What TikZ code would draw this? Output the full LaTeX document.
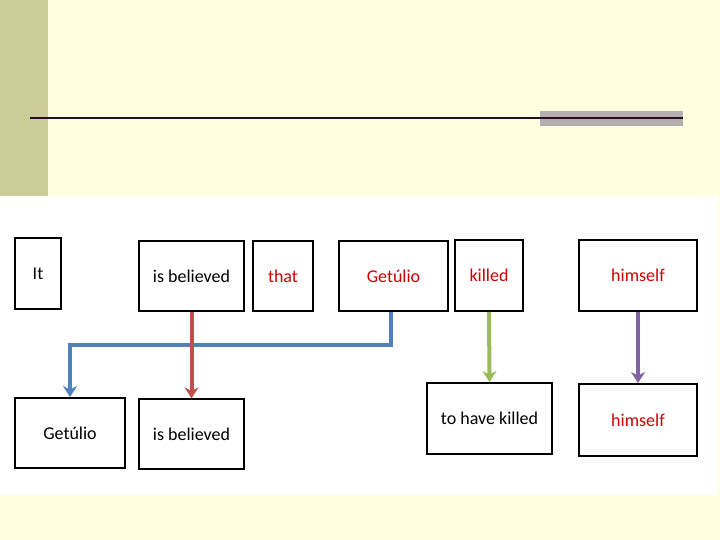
\documentclass[tikz,border=0pt]{standalone}
\usepackage{fontspec}
\setmainfont{Carlito}
\usetikzlibrary{arrows.meta}
\definecolor{cream}{RGB}{255,255,224}
\definecolor{olive}{RGB}{204,204,153}
\definecolor{rulegray}{RGB}{180,174,176}
\definecolor{ruledark}{RGB}{43,10,30}
\definecolor{wordred}{RGB}{204,0,0}
\definecolor{linkblue}{RGB}{79,129,189}
\definecolor{linkred}{RGB}{192,80,77}
\definecolor{linkgreen}{RGB}{155,187,89}
\definecolor{linkpurple}{RGB}{128,100,162}
\tikzset{
  word/.style={draw, fill=white, line width=2pt, font=\fontsize{18}{20}\selectfont, inner sep=0pt},
  link/.style={line width=4pt, -{Stealth[length=11pt, width=14pt]}}
}
\begin{document}
\begin{tikzpicture}[x=1pt, y=-1pt]
\useasboundingbox (0,0) rectangle (720,540);
\fill[cream] (0,0) rectangle (720,540);
\fill[olive] (0,0) rectangle (48,196);
\fill[white] (0,196) rectangle (718,495);
\fill[rulegray] (540,111) rectangle (683,126);
\draw[ruledark, line width=2pt] (30,118) -- (683,118);
% top row
\node[word, minimum width=46pt, minimum height=71pt] (it) at (38,273.5) {It};
\node[word, line width=1.3pt, minimum width=105pt, minimum height=70pt] (isbA) at (191.5,276) {is believed};
\node[word, text=wordred, minimum width=60pt, minimum height=70pt] (that) at (283,276) {that};
\node[word, text=wordred, minimum width=109pt, minimum height=70pt] (getA) at (393.5,276) {Getúlio};
\node[word, text=wordred, minimum width=68pt, minimum height=71pt] (kill) at (489,275.5) {killed};
\node[word, text=wordred, minimum width=118pt, minimum height=71pt] (himA) at (638,275.5) {himself};
% bottom row
\node[word, minimum width=110pt, minimum height=70pt] (getB) at (70,433) {Getúlio};
\node[word, line width=1.3pt, minimum width=105pt, minimum height=70pt] (isbB) at (191.5,434) {is believed};
\node[word, minimum width=125pt, minimum height=71pt] (thk) at (489.5,418.5) {to have killed};
\node[word, text=wordred, minimum width=118pt, minimum height=72pt] (himB) at (638,420) {himself};
% links
\draw[link, linkblue] (getA.south -| 391,0) -- (391,345) -| (getB.north);
\draw[link, linkred] (isbA.south) -- (isbB.north);
\draw[link, linkgreen] (kill.south) -- (thk.north);
\draw[link, linkpurple] (himA.south) -- (himB.north);
\end{tikzpicture}
\end{document}
